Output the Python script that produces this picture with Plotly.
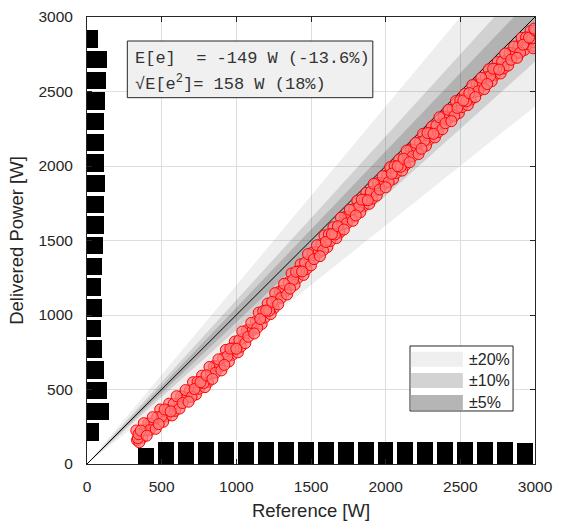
import numpy as np
import plotly.graph_objects as go

# ---- measured samples -------------------------------------------------------
reference_w = [
    330, 340, 350, 360, 370, 380, 390, 400, 410, 420, 430,
    440, 450, 460, 470, 480, 490, 500, 510, 520, 530, 540,
    550, 560, 570, 580, 590, 600, 610, 620, 630, 640, 650,
    660, 670, 680, 690, 700, 710, 720, 730, 740, 750, 760,
    770, 780, 790, 800, 810, 820, 830, 840, 850, 860, 870,
    880, 890, 900, 910, 920, 930, 940, 950, 960, 970, 980,
    990, 1000, 1010, 1020, 1030, 1040, 1050, 1060, 1070, 1080, 1090,
    1100, 1110, 1120, 1130, 1140, 1150, 1160, 1170, 1180, 1190, 1200,
    1210, 1220, 1230, 1240, 1250, 1260, 1270, 1280, 1290, 1300, 1310,
    1320, 1330, 1340, 1350, 1360, 1370, 1380, 1390, 1400, 1410, 1420,
    1430, 1440, 1450, 1460, 1470, 1480, 1490, 1500, 1510, 1520, 1530,
    1540, 1550, 1560, 1570, 1580, 1590, 1600, 1610, 1620, 1630, 1640,
    1650, 1660, 1670, 1680, 1690, 1700, 1710, 1720, 1730, 1740, 1750,
    1760, 1770, 1780, 1790, 1800, 1810, 1820, 1830, 1840, 1850, 1860,
    1870, 1880, 1890, 1900, 1910, 1920, 1930, 1940, 1950, 1960, 1970,
    1980, 1990, 2000, 2010, 2020, 2030, 2040, 2050, 2060, 2070, 2080,
    2090, 2100, 2110, 2120, 2130, 2140, 2150, 2160, 2170, 2180, 2190,
    2200, 2210, 2220, 2230, 2240, 2250, 2260, 2270, 2280, 2290, 2300,
    2310, 2320, 2330, 2340, 2350, 2360, 2370, 2380, 2390, 2400, 2410,
    2420, 2430, 2440, 2450, 2460, 2470, 2480, 2490, 2500, 2510, 2520,
    2530, 2540, 2550, 2560, 2570, 2580, 2590, 2600, 2610, 2620, 2630,
    2640, 2650, 2660, 2670, 2680, 2690, 2700, 2710, 2720, 2730, 2740,
    2750, 2760, 2770, 2780, 2790, 2800, 2810, 2820, 2830, 2840, 2850,
    2860, 2870, 2880, 2890, 2900, 2910, 2920, 2930, 2940, 2950, 2960,
    2970, 2980, 2990, 3000,
    335, 345, 2988, 2995, 2996,
]
delivered_w = [
    225, 173, 146, 224, 176, 274, 227, 190, 273, 227, 270,
    314, 262, 236, 314, 268, 366, 320, 283, 366, 319, 362,
    405, 353, 326, 404, 357, 455, 408, 372, 455, 409, 452,
    496, 444, 418, 496, 450, 549, 503, 467, 551, 505, 549,
    593, 542, 516, 595, 550, 651, 606, 571, 656, 612, 657,
    702, 653, 628, 709, 665, 766, 722, 688, 774, 730, 776,
    822, 773, 749, 831, 787, 889, 845, 811, 898, 854, 901,
    947, 899, 876, 957, 914, 1016, 973, 940, 1026, 983, 1030,
    1077, 1029, 1006, 1088, 1045, 1147, 1104, 1071, 1158, 1115, 1162,
    1209, 1161, 1138, 1220, 1177, 1279, 1236, 1203, 1290, 1247, 1294,
    1340, 1292, 1269, 1351, 1308, 1409, 1366, 1333, 1419, 1375, 1422,
    1468, 1419, 1395, 1476, 1433, 1534, 1490, 1456, 1542, 1497, 1543,
    1589, 1540, 1516, 1596, 1552, 1653, 1608, 1574, 1659, 1615, 1660,
    1706, 1656, 1632, 1712, 1668, 1768, 1724, 1689, 1774, 1730, 1775,
    1820, 1770, 1746, 1826, 1781, 1881, 1836, 1801, 1886, 1842, 1887,
    1932, 1882, 1857, 1937, 1892, 1993, 1948, 1913, 1998, 1953, 1999,
    2044, 1994, 1969, 2049, 2004, 2104, 2060, 2025, 2110, 2065, 2110,
    2155, 2105, 2080, 2160, 2116, 2216, 2171, 2136, 2221, 2176, 2221,
    2266, 2216, 2192, 2272, 2227, 2327, 2282, 2247, 2332, 2287, 2332,
    2377, 2326, 2301, 2381, 2336, 2436, 2390, 2355, 2440, 2395, 2440,
    2484, 2434, 2409, 2489, 2444, 2543, 2498, 2463, 2548, 2502, 2547,
    2591, 2541, 2516, 2595, 2550, 2649, 2604, 2569, 2653, 2608, 2652,
    2697, 2647, 2621, 2701, 2655, 2755, 2710, 2674, 2759, 2713, 2758,
    2802, 2752, 2726, 2806, 2760, 2860, 2814, 2779, 2863, 2818, 2862,
    2907, 2856, 2831, 2910,
    160, 200, 2790, 2922, 2805,
]

# scaled histogram bar lengths (20 bins each, low -> high)
reference_hist = [105, 148, 148, 148, 148, 148, 148, 148, 148, 148,
                  148, 148, 148, 148, 148, 148, 148, 148, 148, 143]
delivered_hist = [82, 149, 134, 114, 103, 96, 98, 96, 103, 107,
                  116, 114, 119, 116, 114, 116, 123, 129, 136, 74]

mean_error_w, mean_error_pct = -149, -13.6
rms_error_w, rms_error_pct = 158, 18

band_pct = [20, 10, 5]
band_labels = ["\u00b120%", "\u00b110%", "\u00b15%"]

# ---- styling ------------------------------------------------------------------
AX_MAX = 3000
TICKS = list(range(0, 3001, 500))
INK = "#262626"
GRID = "#dedede"
SANS = "Arial, Liberation Sans, Helvetica, sans-serif"
MONO = "Courier New, Liberation Mono, monospace"
ring_fill = ["rgba(0,0,0,0.065)", "rgba(0,0,0,0.18)", "rgba(0,0,0,0.30)"]
swatch_fill = ["#efefef", "#d3d3d3", "#b5b5b5"]

fig = go.Figure()

# tolerance cones around the identity line, drawn as rings so each level keeps its shade
levels = band_pct + [0]
for i, p in enumerate(band_pct):
    inner = levels[i + 1]
    for sign in (1, -1):
        a = 1 + sign * inner / 100
        b = 1 + sign * p / 100
        fig.add_trace(go.Scatter(
            x=[0, AX_MAX, AX_MAX, 0], y=[0, AX_MAX * a, AX_MAX * b, 0],
            mode="lines", fill="toself", fillcolor=ring_fill[i],
            line=dict(width=0), hoverinfo="skip", showlegend=False))

# identity line
fig.add_trace(go.Scatter(x=[0, AX_MAX], y=[0, AX_MAX], mode="lines",
                         line=dict(color="black", width=1), showlegend=False))

# delivered vs reference (interleaved draw order so overlaps look like logged samples)
ref_arr = np.array(reference_w)
del_arr = np.array(delivered_w)
n = len(ref_arr)
order = np.concatenate([np.arange(k, n, 4) for k in (0, 2, 1, 3)])
fig.add_trace(go.Scatter(
    x=ref_arr[order], y=del_arr[order], mode="markers", showlegend=False,
    marker=dict(size=11, color="rgba(255,122,122,0.75)",
                line=dict(color="#ff0000", width=1))))

# marginal histograms
x_edges = np.linspace(ref_arr.min(), ref_arr.max(), len(reference_hist) + 1)
y_edges = np.linspace(del_arr.min(), del_arr.max(), len(delivered_hist) + 1)
x_centres = (x_edges[:-1] + x_edges[1:]) / 2
y_centres = (y_edges[:-1] + y_edges[1:]) / 2

fig.add_trace(go.Bar(x=x_centres, y=reference_hist, width=np.diff(x_edges) * 0.8,
                     marker=dict(color="black", line=dict(width=0)),
                     showlegend=False, hoverinfo="skip"))
fig.add_trace(go.Bar(y=y_centres, x=delivered_hist, orientation="h",
                     width=np.diff(y_edges) * 0.84,
                     marker=dict(color="black", line=dict(width=0)),
                     showlegend=False, hoverinfo="skip"))

shapes = []
annotations = []

# statistics box
shapes.append(dict(type="rect", xref="paper", yref="paper",
                   x0=0.090, x1=0.638, y0=0.8195, y1=0.9463,
                   fillcolor="#f0f0f0", line=dict(color=INK, width=1), layer="above"))
nb = "\u00a0"
line1 = f"E[e]{nb}{nb}={nb}{mean_error_w}{nb}W{nb}({mean_error_pct}%)"
line2 = f"\u221aE[e<sup>2</sup>]={nb}{rms_error_w}{nb}W{nb}({rms_error_pct}%)"
for txt, yy in ((line1, 0.9076), (line2, 0.8517)):
    annotations.append(dict(xref="paper", yref="paper", x=0.1033, y=yy,
                            text=txt, showarrow=False, xanchor="left", yanchor="middle",
                            font=dict(family=MONO, size=17, color="#333333")))

# tolerance legend
shapes.append(dict(type="rect", xref="paper", yref="paper",
                   x0=0.721, x1=0.951, y0=0.1186, y1=0.264,
                   fillcolor="white", line=dict(color=INK, width=1), layer="above"))
rows = [(0.2177, 0.2512), (0.1700, 0.2036), (0.1208, 0.1544)]
for (y0, y1), col, lab in zip(rows, swatch_fill, band_labels):
    shapes.append(dict(type="rect", xref="paper", yref="paper",
                       x0=0.723, x1=0.839, y0=y0, y1=y1,
                       fillcolor=col, line=dict(width=0), layer="above"))
    annotations.append(dict(xref="paper", yref="paper", x=0.8475, y=(y0 + y1) / 2,
                            text=lab, showarrow=False, xanchor="left", yanchor="middle",
                            font=dict(family=SANS, size=16, color=INK)))

axis_common = dict(
    range=[0, AX_MAX], tickvals=TICKS, ticks="inside", ticklen=5, tickwidth=1,
    tickcolor=INK, showline=True, linecolor=INK, linewidth=1, mirror="ticks",
    showgrid=True, gridcolor=GRID, gridwidth=1, zeroline=False, automargin=False,
    tickfont=dict(family=SANS, size=15.5, color=INK), fixedrange=True,
)

fig.update_layout(
    width=564, height=523,
    margin=dict(l=87, r=29, t=17, b=59),
    paper_bgcolor="white", plot_bgcolor="white",
    barmode="overlay", bargap=0,
    shapes=shapes, annotations=annotations,
    xaxis=dict(axis_common, ticklabelstandoff=8,
               title=dict(text="Reference [W]", standoff=10,
                          font=dict(family=SANS, size=18.5, color=INK))),
    yaxis=dict(axis_common, ticklabelstandoff=10,
               title=dict(text="Delivered Power [W]", standoff=9,
                          font=dict(family=SANS, size=18.5, color=INK))),
)

fig.write_html("out.html")
